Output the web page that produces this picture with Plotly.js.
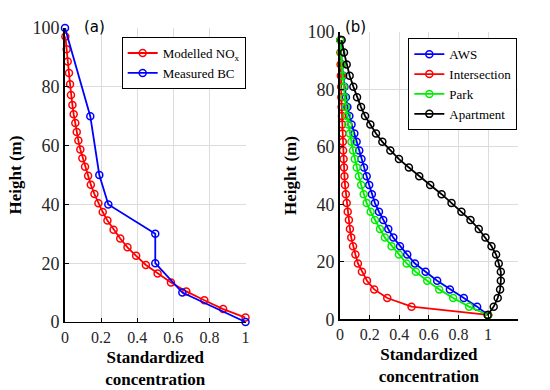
<!DOCTYPE html>
<html>
<head>
<meta charset="utf-8">
<script src="https://cdn.plot.ly/plotly-3.0.1.min.js"></script>
<style>html,body{margin:0;padding:0;background:#fff;}#chart{width:550px;height:390px;}</style>
</head>
<body>
<div id="chart"></div>
<script>
// Model grid heights (m), bottom to top
const heights = [1.5,4.4,7.4,10.4,13.4,16.5,19.4,22.5,25.4,28.4,31.4,34.5,37.4,40.4,43.5,46.7,49.7,52.8,55.7,58.7,61.7,64.6,67.7,70.7,73.8,77.2,80.9,84.7,88.6,92.8,97.1];

// Panel (a)
const modelledNOx = [1.0,0.876,0.772,0.672,0.587,0.513,0.448,0.394,0.346,0.306,0.269,0.235,0.209,0.185,0.163,0.143,0.128,0.111,0.096,0.085,0.074,0.065,0.057,0.048,0.041,0.033,0.028,0.022,0.015,0.009,0.002];
const bcHeights = [0,10,20,30,40,50,70,100];
const measuredBC = [1.0,0.65,0.5,0.5,0.24,0.19,0.14,0.0];

// Panel (b)
const aws = [1.0,0.926,0.836,0.742,0.656,0.578,0.506,0.454,0.405,0.360,0.326,0.292,0.263,0.236,0.215,0.197,0.180,0.162,0.145,0.130,0.112,0.097,0.078,0.063,0.050,0.040,0.030,0.021,0.013,0.007,0.003];
const intersection = [1.0,0.483,0.319,0.231,0.182,0.148,0.121,0.104,0.088,0.076,0.067,0.060,0.052,0.045,0.039,0.034,0.030,0.027,0.024,0.021,0.019,0.017,0.015,0.013,0.011,0.009,0.008,0.006,0.004,0.003,0.002];
const park = [1.0,0.872,0.764,0.670,0.589,0.512,0.450,0.398,0.348,0.303,0.270,0.236,0.207,0.180,0.160,0.143,0.128,0.113,0.100,0.088,0.077,0.066,0.056,0.047,0.039,0.032,0.025,0.018,0.012,0.007,0.003];
const apartment = [0.997,1.038,1.065,1.081,1.086,1.086,1.072,1.054,1.023,0.982,0.937,0.881,0.820,0.753,0.686,0.609,0.535,0.465,0.398,0.340,0.286,0.243,0.205,0.169,0.142,0.115,0.090,0.065,0.045,0.027,0.011];

const xTicks = [0,0.2,0.4,0.6,0.8,1];
const xTickText = ['0','0.2','0.4','0.6','0.8','1'];
const yTicks = [0,20,40,60,80,100];

const serif = 'Liberation Serif, Times New Roman, serif';

function series(x, y, name, color, xa, ya, legend) {
  return {
    type: 'scatter', mode: 'lines+markers', x: x, y: y, name: name,
    xaxis: xa, yaxis: ya, legend: legend, cliponaxis: false,
    line: {color: color, width: 1.8},
    marker: {symbol: 'circle-open', size: 7, color: color, line: {color: color, width: 1.5}}
  };
}

const data = [
  series(modelledNOx, heights, 'Modelled NO<sub>x</sub>', '#ff0000', 'x', 'y', 'legend'),
  series(measuredBC, bcHeights, 'Measured BC', '#0000ff', 'x', 'y', 'legend'),
  series(aws, heights, 'AWS', '#0000ff', 'x2', 'y2', 'legend2'),
  series(intersection, heights, 'Intersection', '#ff0000', 'x2', 'y2', 'legend2'),
  series(park, heights, 'Park', '#00ee00', 'x2', 'y2', 'legend2'),
  series(apartment, heights, 'Apartment', '#000000', 'x2', 'y2', 'legend2')
];

function xaxis(domain, range) {
  return {
    domain: domain, range: range, tickvals: xTicks, ticktext: xTickText,
    showgrid: true, gridcolor: '#dcdcdc', gridwidth: 1, zeroline: false,
    showline: true, linecolor: '#000', linewidth: 1.5,
    ticks: 'inside', ticklen: 4, tickcolor: '#000',
    tickfont: {family: serif, size: 16, color: '#262626'},
    title: {text: '<b>Standardized<br>concentration</b>', font: {family: serif, size: 17, color: '#000'}, standoff: 6},
    automargin: false, fixedrange: true
  };
}
function yaxis(domain, anchor) {
  return {
    domain: domain, range: [0, 100], tickvals: yTicks, anchor: anchor,
    showgrid: true, gridcolor: '#dcdcdc', gridwidth: 1, zeroline: false,
    showline: true, linecolor: '#000', linewidth: 2,
    ticks: 'inside', ticklen: 4, tickcolor: '#000',
    tickfont: {family: serif, size: 18, color: '#262626'},
    title: {text: '<b>Height (m)</b>', font: {family: serif, size: 17, color: '#000'}, standoff: 6},
    automargin: false, fixedrange: true
  };
}

const legendBase = {
  bgcolor: '#fff', bordercolor: '#000', borderwidth: 1,
  font: {family: serif, size: 13, color: '#000'},
  xanchor: 'right', yanchor: 'top', tracegroupgap: 0, itemwidth: 30
};

const layout = {
  width: 550, height: 390,
  margin: {l: 0, r: 0, t: 0, b: 0},
  paper_bgcolor: '#fff', plot_bgcolor: '#fff',
  showlegend: true,
  xaxis: Object.assign(xaxis([0.1182, 0.4464], [0, 1]), {anchor: 'y'}),
  yaxis: yaxis([0.1744, 0.9282], 'x'),
  xaxis2: Object.assign(xaxis([0.6182, 0.9413], [0, 1.2]), {anchor: 'y2'}),
  yaxis2: yaxis([0.1813, 0.9187], 'x2'),
  legend: Object.assign({}, legendBase, {x: 0.4467, y: 0.905}),
  legend2: Object.assign({}, legendBase, {x: 0.9406, y: 0.902}),
  annotations: [
    {text: '(a)', xref: 'paper', yref: 'paper', x: 82/550, y: 1 - 16/390, showarrow: false,
     font: {family: 'DejaVu Sans, Noto Sans, sans-serif', size: 15, color: '#000'}},
    {text: '(b)', xref: 'paper', yref: 'paper', x: 355/550, y: 1 - 16/390, showarrow: false,
     font: {family: 'DejaVu Sans, Noto Sans, sans-serif', size: 15, color: '#000'}}
  ]
};

Plotly.newPlot('chart', data, layout, {displayModeBar: false, staticPlot: true});
</script>
</body>
</html>
